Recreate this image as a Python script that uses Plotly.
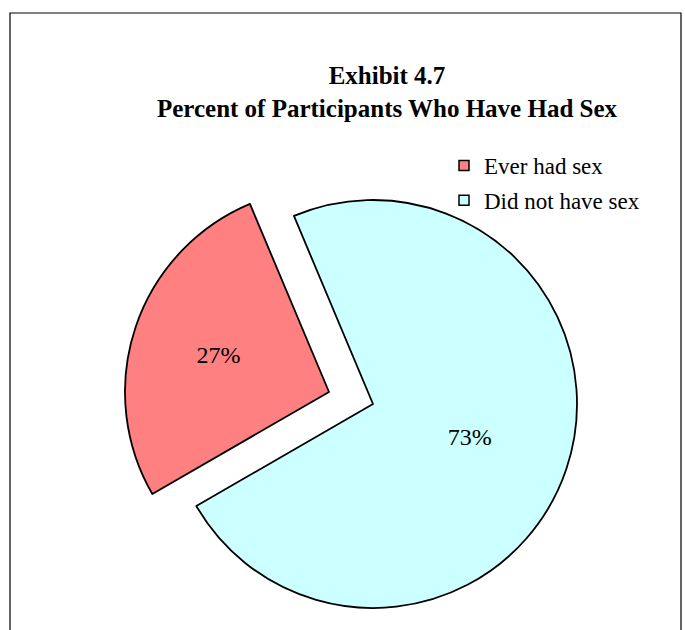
import plotly.graph_objects as go

# Survey result: share of participants who have ever had sex
categories = ["Ever had sex", "Did not have sex"]
percents = [27, 73]
slice_colors = ["#FF8080", "#CCFFFF"]

title_lines = ["Exhibit 4.7", "Percent of Participants Who Have Had Sex"]

W, H = 685, 630
R = 204                      # pie radius, px
CENTER = (373, 404)          # main pie centre, px from top-left
EXPLODE = (-44, -12)         # offset of the exploded first slice, px
ROTATION = 240

SERIF = "Liberation Serif, Times New Roman, serif"
CLEAR = "rgba(0,0,0,0)"


def domain_for(cx, cy):
    """Paper-fraction domain of a square box of half-size R centred at (cx, cy)."""
    return dict(
        x=[(cx - R) / W, (cx + R) / W],
        y=[(H - cy - R) / H, (H - cy + R) / H],
    )


def pie_layer(show_index, cx, cy):
    """A pie of all categories where only one slice is painted."""
    colors = [c if i == show_index else CLEAR for i, c in enumerate(slice_colors)]
    lines = ["black" if i == show_index else CLEAR for i in range(len(categories))]
    text = [f"{v}%" if i == show_index else "" for i, v in enumerate(percents)]
    return go.Pie(
        labels=categories,
        values=percents,
        sort=False,
        direction="clockwise",
        rotation=ROTATION,
        domain=domain_for(cx, cy),
        marker=dict(colors=colors, line=dict(color=lines, width=1.8)),
        text=text,
        textinfo="text",
        textposition="inside",
        insidetextorientation="horizontal",
        insidetextfont=dict(family=SERIF, size=24, color="black"),
        showlegend=False,
        hoverinfo="label+percent",
    )


fig = go.Figure()
# main body of the pie, then the exploded slice on its own offset layer
fig.add_trace(pie_layer(1, *CENTER))
fig.add_trace(pie_layer(0, CENTER[0] + EXPLODE[0], CENTER[1] + EXPLODE[1]))

# legend entries with square swatches
for name, col in zip(categories, slice_colors):
    fig.add_trace(go.Scatter(
        x=[None], y=[None], mode="markers", name=name, legendgroup=name,
        marker=dict(symbol="square", size=10, color=col,
                    line=dict(color="black", width=1.5)),
    ))

fig.update_layout(
    width=W, height=H,
    margin=dict(l=0, r=0, t=0, b=0),
    paper_bgcolor="white",
    plot_bgcolor="white",
    xaxis=dict(visible=False),
    yaxis=dict(visible=False),
    title=dict(
        text="<b>" + "<br>".join(title_lines) + "</b>",
        x=387 / W, xanchor="center",
        y=1 - 84 / H, yanchor="top", yref="container",
        font=dict(family=SERIF, size=25, color="black"),
    ),
    legend=dict(
        x=444 / W, xanchor="left",
        y=1 - 144 / H, yanchor="top",
        bgcolor=CLEAR,
        font=dict(family=SERIF, size=23, color="black"),
        tracegroupgap=2,
    ),
    shapes=[dict(
        type="rect", xref="paper", yref="paper",
        x0=10 / W, x1=681 / W, y0=-0.05, y1=1 - 13 / H,
        line=dict(color="black", width=1.2),
        fillcolor=CLEAR, layer="below",
    )],
)

fig.write_html("out.html")
